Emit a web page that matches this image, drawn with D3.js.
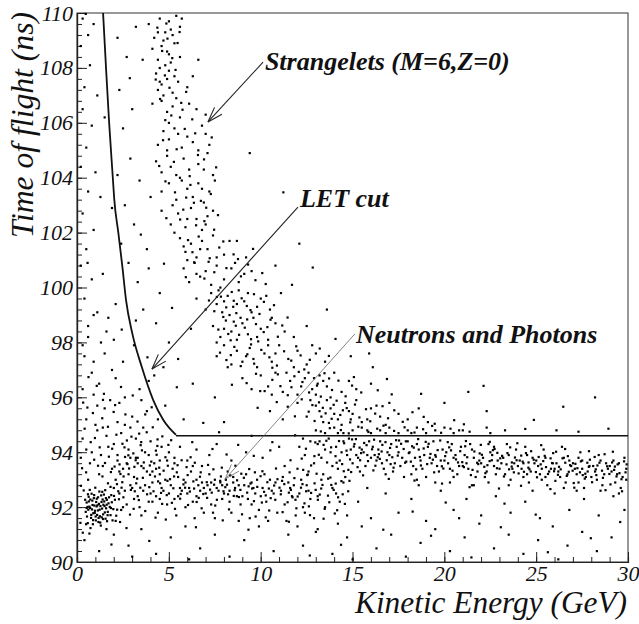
<!DOCTYPE html>
<html><head><meta charset="utf-8">
<script src="https://cdn.jsdelivr.net/npm/d3@7"></script>
<style>
html,body{margin:0;padding:0;background:#fff;}
svg{display:block;}
.tick text{font-family:"Liberation Serif","Times New Roman",serif;font-style:italic;font-size:22px;fill:#111;}
</style></head>
<body><svg id="chart" width="639" height="624"></svg>
<script>
// ---------- data ----------
const xTicks = [0, 5, 10, 15, 20, 25, 30];
const yTicks = [90, 92, 94, 96, 98, 100, 102, 104, 106, 108, 110];

// LET cut: curved part and flat part [E (GeV), t (ns)]
const letCurve = [[1.42,110],[1.58,108],[1.75,106],[1.95,104],[2.03,103.2],[2.25,102],[2.47,100.76],[2.67,99.54],[3.01,98.33],[3.52,97.12],[4.15,95.9],[4.7,95.17],[5.39,94.63]];
const letFlat = [[5.39,94.6],[30,94.6]];

const strangelets = [
[3.9,109.6],[4.2,109.1],[4.5,109.8],[4.8,109.3],[5.0,109.7],[5.2,109.2],[5.4,109.9],[5.6,109.5],[5.1,109.4],[4.7,109.0],[5.7,109.8],[4.4,109.3],
[4.1,108.7],[4.4,108.3],[4.6,108.8],[4.8,108.1],[5.0,108.5],[5.3,108.9],[4.9,108.6],[5.6,108.4],[6.6,108.3],[4.5,108.0],[5.1,108.2],
[4.3,107.8],[4.6,107.4],[4.9,107.6],[5.2,107.1],[5.5,107.5],[4.4,107.2],[5.0,107.9],[6.0,107.3],[6.3,107.7],[4.7,107.0],[5.3,107.7],[4.5,107.5],
[4.6,106.8],[4.9,106.4],[5.2,106.6],[5.6,106.2],[4.8,106.1],[6.5,106.5],[7.0,106.3],[5.4,106.9],[5.0,106.0],[6.1,106.7],
[4.4,105.2],[4.7,105.7],[5.0,105.4],[5.3,105.8],[5.7,105.1],[6.0,105.5],[6.3,105.3],[6.8,105.9],[7.2,105.2],[5.5,105.6],[4.9,105.0],[6.6,105.0],[7.0,105.6],
[4.3,104.6],[4.6,104.2],[4.9,104.8],[5.1,104.4],[5.4,104.1],[5.8,104.7],[6.1,104.3],[6.6,104.5],[7.1,104.9],[7.4,104.1],[9.4,104.9],[5.6,104.0],[6.9,104.3],
[4.6,103.5],[5.0,103.8],[5.4,103.2],[5.7,103.9],[6.0,103.6],[6.3,103.3],[6.6,103.8],[6.9,103.1],[7.2,103.5],[7.5,103.9],[4.0,103.3],[5.2,103.0],[6.8,103.6],
[4.6,102.8],[5.1,102.3],[5.5,102.7],[5.9,102.2],[6.2,102.9],[6.5,102.5],[6.8,102.1],[7.1,102.6],[7.4,102.8],[6.0,102.5],[5.3,102.0],[7.0,102.3],
[5.6,101.8],[5.9,101.3],[6.2,101.6],[6.5,101.1],[6.8,101.7],[7.1,101.4],[7.4,101.9],[8.0,101.2],[8.3,101.7],[6.0,101.0],[6.7,101.4],[7.6,101.1],[5.8,101.5],[8.7,101.7],[9.2,101.1],
[5.8,100.7],[6.1,100.2],[6.4,100.9],[6.7,100.4],[7.0,100.6],[7.3,100.1],[7.6,100.8],[8.0,100.3],[8.4,100.7],[8.8,100.2],[9.1,100.5],[6.5,100.5],[7.8,100.0],[8.6,100.9],[9.5,100.6],
[6.5,99.6],[7.0,99.2],[7.3,99.8],[7.6,99.4],[7.9,99.1],[8.2,99.7],[8.5,99.3],[8.8,99.9],[9.1,99.5],[9.5,99.1],[10.0,99.6],[10.5,99.2],[11.1,99.8],[7.7,99.9],[8.3,99.0],[9.3,99.8],[8.0,99.5],[9.8,99.3],[10.3,99.7],[8.7,99.4],
[7.4,98.6],[7.8,98.2],[8.1,98.8],[8.4,98.4],[8.7,98.1],[9.0,98.7],[9.3,98.3],[9.6,98.9],[10.0,98.5],[10.4,98.1],[10.8,98.7],[11.3,98.4],[8.0,98.5],[8.9,98.9],[9.8,98.2],[7.6,98.0],[10.6,98.9],[11.8,98.2],[12.5,98.6],
[7.6,97.5],[8.0,97.9],[8.4,97.2],[8.7,97.7],[9.0,97.3],[9.4,97.8],[9.8,97.1],[10.2,97.6],[10.6,97.3],[11.0,97.9],[11.5,97.4],[12.0,97.7],[12.5,97.2],[13.0,97.6],[9.2,97.5],[10.8,97.6],[11.8,97.1],[12.8,97.9],[13.5,97.3],[10.4,97.9],[8.2,97.1],[9.6,97.4],
[9.0,96.7],[9.5,96.3],[10.0,96.8],[10.4,96.4],[10.8,96.9],[11.2,96.2],[11.6,96.6],[12.0,96.1],[12.4,96.7],[12.8,96.3],[13.2,96.8],[13.6,96.4],[14.0,96.9],[11.4,96.9],[12.2,96.4],[13.0,96.1],[13.4,96.6],[14.4,96.2],[10.6,96.1],[12.6,96.9],[13.8,96.0],[14.8,96.6],[15.2,96.3],[16.0,96.5],[13.1,96.5],[12.9,96.7],
[10.5,95.5],[11.2,95.2],[12.0,95.8],[12.5,95.3],[13.0,95.7],[13.4,95.1],[13.8,95.6],[14.2,95.2],[14.6,95.8],[15.0,95.4],[15.5,95.1],[16.0,95.6],[16.5,95.3],[17.0,95.8],[13.2,95.5],[13.6,95.9],[14.0,95.4],[14.4,95.0],[14.8,95.5],[15.2,95.9],[15.8,95.2],[16.3,95.7],[17.5,95.4],[18.0,95.2],[18.6,95.6],[19.1,95.1],[13.3,95.3],[14.9,95.2],[12.7,95.9],[16.8,95.0],[20.0,95.8],[22.3,95.5],
[13.0,94.8],[13.5,94.7],[14.0,94.9],[14.5,94.7],[15.0,94.8],[15.5,94.9],[16.0,94.7],[16.5,94.8],[17.0,94.9],[17.5,94.7],[18.0,94.8],[18.5,94.9],[19.0,94.7],[19.5,94.8],[20.0,94.9],[20.5,94.7],[21.0,94.8],[22.3,94.9],[14.2,94.7],[15.8,94.8],[16.8,94.7],[18.2,94.7],[20.8,94.8],[22.5,94.7],
[14.9,97.5],[16.1,97.1],[15.9,97.6],[21.3,96.2],[28.2,96.0],[26.1,94.8],[12.1,101.6],[10.8,100.8],[13.6,99.2],[11.7,100.1],
[4.37,109.47],[4.63,108.62],[4.92,109.07],[5.18,108.36],[5.47,108.91],[4.78,107.73],[5.03,107.28],[5.36,107.93],[4.52,106.87],[5.74,106.48],[5.94,107.13],[4.28,107.58],[5.58,109.31],[4.86,109.62],
[4.68,105.37],[5.13,106.27],[5.42,105.04],[5.86,105.78],[6.27,106.13],[6.58,104.83],[4.47,104.43],[5.27,104.58],[6.43,105.62],[6.91,104.67],[7.33,105.47],[5.67,106.73],[4.81,103.87],[6.13,104.06],[7.57,104.38],
[4.86,102.53],[5.33,103.47],[5.78,102.84],[6.17,103.74],[6.48,102.27],[6.74,103.16],[7.03,102.91],[7.28,103.41],[5.61,102.48],[6.36,103.09],[7.67,102.64],[5.94,103.28],[6.93,102.42],[7.46,102.11],
[6.04,101.73],[6.37,100.92],[6.62,101.86],[6.93,100.33],[7.22,101.07],[7.47,100.56],[7.74,101.46],[8.13,100.71],[8.52,101.21],[8.92,100.41],[9.31,100.84],[9.71,100.27],[10.08,100.53],[5.92,100.38],[6.28,101.29],[7.16,100.94],[7.96,101.68],[8.76,101.04],[9.58,101.41],[10.27,100.13],
[7.18,99.53],[7.47,99.14],[7.83,99.67],[8.12,99.28],[8.42,99.84],[8.67,99.07],[8.96,99.61],[9.24,99.33],[9.63,99.76],[9.93,99.04],[10.17,99.48],[10.72,99.36],[8.53,99.52],[9.44,99.18],[7.61,99.66],
[7.69,98.47],[7.96,98.93],[8.23,98.31],[8.53,98.76],[8.82,98.28],[9.13,98.54],[9.47,98.12],[9.74,98.67],[10.16,98.38],[10.53,98.83],[10.93,98.21],[11.17,98.62],[8.36,98.08],[9.26,98.84],[10.36,98.56],[11.46,98.91],[9.86,98.04],[8.64,98.61],
[7.78,97.63],[8.13,97.36],[8.56,97.84],[8.91,97.14],[9.27,97.57],[9.64,97.23],[10.03,97.73],[10.47,97.46],[10.88,97.16],[11.27,97.68],[11.66,97.34],[12.17,97.53],[12.67,97.37],[13.21,97.78],[9.47,97.93],[10.63,97.08],[11.93,97.86],[12.37,97.02],[13.71,97.51],[8.37,97.54],
[9.23,96.52],[9.74,96.86],[10.21,96.23],[10.63,96.64],[11.07,96.41],[11.47,96.08],[11.83,96.77],[12.27,96.56],[12.63,96.18],[13.06,96.43],[13.47,96.88],[13.88,96.27],[14.23,96.61],[14.62,96.04],[15.07,96.74],[15.47,96.18],[12.07,96.93],[13.27,96.03],[13.72,96.69],[14.97,96.43],[10.93,96.84],[11.67,96.37],[16.37,96.26],[17.13,96.11],[8.43,96.46],
[11.47,95.66],[11.86,95.31],[12.23,95.93],[12.61,95.48],[12.93,95.14],[13.17,95.82],[13.53,95.42],[13.71,95.07],[13.97,95.73],[14.33,95.36],[14.68,95.61],[14.87,95.09],[15.13,95.74],[15.37,95.27],[15.73,95.57],[15.96,95.13],[16.23,95.41],[16.63,95.68],[16.93,95.24],[17.27,95.53],[17.73,95.11],[18.26,95.46],[18.87,95.29],[19.47,95.04],[13.38,95.62],[14.13,95.88],[12.81,95.72],[13.86,95.22],[14.47,95.53],[10.87,95.83],[20.53,95.17],[21.06,95.02],
[13.27,94.76],[13.76,94.88],[14.36,94.81],[14.79,94.69],[15.31,94.93],[15.86,94.74],[16.34,94.86],[16.68,94.97],[17.26,94.78],[17.83,94.91],[18.37,94.72],[18.84,94.84],[19.33,94.96],[19.82,94.71],[20.33,94.86],[21.37,94.75],[23.3,94.8],[24.4,94.85],[27.3,94.75]
];

const highBand = [
[12.1,94.2],[12.4,93.9],[12.7,94.4],[12.9,93.6],[12.3,94.5],[12.6,93.3],
[13.1,94.3],[13.3,93.8],[13.5,94.1],[13.7,94.5],[13.9,93.5],[13.4,93.2],[13.8,94.0],[13.2,94.4],
[14.1,94.2],[14.3,93.7],[14.5,94.4],[14.7,93.9],[14.9,94.1],[14.2,93.4],[14.6,93.1],[14.8,94.5],[14.4,94.0],
[15.1,94.3],[15.3,93.8],[15.5,94.1],[15.7,93.5],[15.9,94.4],[15.2,93.9],[15.6,94.0],[15.4,93.3],[15.8,93.9],[15.0,93.6],
[16.1,94.2],[16.3,93.7],[16.5,94.4],[16.7,93.4],[16.9,94.0],[16.2,93.9],[16.6,93.6],[16.4,94.1],[16.8,93.2],[16.0,93.8],
[17.1,94.3],[17.3,93.6],[17.5,94.0],[17.7,93.8],[17.9,94.4],[17.2,93.3],[17.6,93.5],[17.4,94.2],[17.8,93.1],[17.0,93.9],
[18.1,94.0],[18.3,93.5],[18.5,94.3],[18.7,93.7],[18.9,93.9],[18.2,93.2],[18.6,94.1],[18.4,93.8],[18.8,93.4],[18.0,94.4],[18.5,93.0],
[19.1,94.2],[19.3,93.6],[19.5,93.9],[19.7,93.3],[19.9,94.1],[19.2,93.8],[19.6,93.5],[19.4,94.4],[19.8,93.7],[19.0,93.1],[19.5,92.9],
[20.1,94.0],[20.3,93.4],[20.5,93.8],[20.7,93.2],[20.9,94.2],[20.2,93.6],[20.6,93.9],[20.4,94.3],[20.8,93.5],[20.0,93.7],[20.5,93.1],[20.3,92.9],
[21.1,93.9],[21.3,93.4],[21.5,94.1],[21.7,93.1],[21.9,93.7],[21.2,93.6],[21.6,93.8],[21.4,94.3],[21.8,93.3],[21.0,93.5],[21.5,92.8],
[22.1,93.8],[22.3,93.3],[22.5,94.0],[22.7,93.5],[22.9,93.7],[22.2,93.1],[22.6,93.9],[22.4,94.3],[22.8,93.2],[22.0,93.6],[22.4,92.9],[22.7,94.2],
[23.1,93.6],[23.3,93.2],[23.5,93.9],[23.7,93.4],[23.9,94.1],[23.2,93.8],[23.6,93.0],[23.4,94.3],[23.8,93.6],[23.0,93.4],[23.5,92.8],
[24.1,93.7],[24.3,93.1],[24.5,93.9],[24.7,93.3],[24.9,93.6],[24.2,93.4],[24.6,92.9],[24.4,94.2],[24.8,93.8],[24.0,93.5],[24.5,93.2],[24.3,93.6],
[25.1,93.5],[25.3,93.0],[25.5,93.8],[25.7,93.3],[25.9,93.6],[25.2,93.2],[25.6,92.8],[25.4,94.1],[25.8,93.4],[25.0,93.7],[25.5,93.1],[25.3,93.4],
[26.1,93.6],[26.3,93.1],[26.5,93.8],[26.7,93.2],[26.9,93.5],[26.2,93.3],[26.6,92.9],[26.4,94.2],[26.8,93.7],[26.0,93.4],[26.5,92.7],
[27.1,93.4],[27.3,92.9],[27.5,93.7],[27.7,93.1],[27.9,93.5],[27.2,93.2],[27.6,92.7],[27.4,94.0],[27.8,93.3],[27.0,93.6],[27.5,93.4],[27.3,93.8],
[28.1,93.5],[28.3,93.0],[28.5,93.7],[28.7,93.2],[28.9,93.4],[28.2,93.3],[28.6,92.8],[28.4,93.9],[28.8,93.6],[28.0,93.1],[28.5,92.6],
[29.1,93.3],[29.3,92.9],[29.5,93.6],[29.7,93.1],[29.9,93.4],[29.2,93.7],[29.6,92.7],[29.4,93.2],[29.8,93.8],[29.0,93.5],[29.5,92.5],[29.9,93.0],
[12.23,93.77],[12.46,94.13],[12.74,93.52],[12.97,94.36],[13.16,93.91],[13.42,94.27],[13.61,93.63],[13.83,94.18],[14.07,93.86],[14.26,94.41],[14.43,93.57],[14.67,94.06],[14.86,93.74],[15.07,94.21],[15.27,93.46],[15.46,93.97],[15.63,94.34],[15.84,93.68],[16.06,94.11],[16.24,93.51],[16.43,93.93],[16.62,94.27],[16.86,93.71],[17.04,94.16],[17.23,93.44],[17.46,93.88],[17.64,94.31],[17.86,93.62],[18.06,93.97],[18.24,94.22],[18.46,93.38],[18.66,93.83],[18.87,94.14],[19.06,93.57],[19.24,93.94],[19.44,93.27],[19.63,94.08],[19.86,93.49],[20.04,93.86],[20.26,94.18],[20.44,93.33],[20.63,93.74],[20.86,94.04],[21.06,93.46],[21.24,93.82],[21.44,93.17],[21.63,94.03],[21.84,93.57],[22.04,93.91],[22.23,93.24],[22.46,93.68],[22.64,94.08],[22.86,93.42],[23.04,93.78],[23.24,93.12],[23.43,93.97],[23.66,93.48],[23.84,93.81],[24.04,93.23],[24.26,93.66],[24.44,93.97],[24.63,93.38],[24.86,93.73],[25.04,93.09],[25.24,93.56],[25.46,93.87],[25.64,93.21],[25.86,93.61],[26.04,92.96],[26.24,93.47],[26.43,93.78],[26.66,93.14],[26.84,93.53],[27.04,92.88],[27.24,93.42],[27.43,93.67],[27.64,93.04],[27.86,93.47],[28.04,92.91],[28.24,93.38],[28.44,93.62],[28.63,93.07],[28.86,93.49],[29.04,92.83],[29.24,93.36],[29.43,93.56],[29.64,93.02],[29.86,93.27],
[13.57,94.42],[14.97,94.47],[16.17,94.46],[17.37,94.44],[18.57,94.48],[19.77,94.43],[21.17,94.41],[22.47,94.38],[23.97,94.33],[25.27,94.26],[26.57,94.12],[27.87,94.04],[29.17,94.02],
[15.57,93.16],[16.97,93.03],[18.37,92.97],[19.87,92.86],[21.37,92.73],[22.97,92.68],[24.17,92.78],[25.77,92.66],[27.07,92.71],[28.77,92.62],[29.67,92.58],
[12.53,93.17],[13.67,93.04],[14.77,93.36],[24.57,93.44],[25.97,93.31],[26.77,93.29],[27.67,93.22],[28.27,93.17],[29.37,93.12],[23.67,93.63],[22.17,93.47],[20.97,93.64],[19.37,93.73],[18.17,93.66],[17.07,93.57],[16.37,93.82],
[14.13,93.62],[14.54,94.33],[14.92,93.28],[15.18,94.48],[15.41,93.71],[15.76,94.26],[16.13,93.34],[16.48,93.76],[16.79,94.37],[17.16,93.82],[17.53,94.43],[17.92,93.66],[18.33,94.17],[18.72,93.52],[19.14,94.31],[19.53,93.84],[19.94,93.41],[20.36,94.07],[20.74,93.63],[21.13,94.22],[21.53,93.36],[21.92,93.96],[22.34,93.53],[22.73,94.12],[23.14,93.87],[23.52,93.38],[23.93,93.71],[24.33,93.29],[24.72,94.04],[25.13,93.83],[25.53,93.46],[25.92,93.97],[26.33,93.38],[26.72,93.86],[27.13,93.58],[27.53,93.17],[27.92,93.73],[28.33,93.52],[28.72,93.93],[29.13,93.63],[29.53,93.24],[29.92,93.56],
[22.58,93.71],[23.38,93.56],[24.18,93.88],[24.98,93.28],[25.78,93.78],[26.58,93.62],[27.38,93.27],[28.18,93.83],[28.98,93.21],[29.78,93.67],[25.38,93.68],[26.18,93.18],[26.98,93.33],[27.78,93.62],[28.58,93.33],[29.28,93.48],[23.78,93.27],[24.58,93.63],[22.88,93.98],[21.78,93.62],
[20.18,94.37],[18.98,94.38],[17.78,94.12],[16.58,94.03],[15.38,94.17],[21.98,94.27],[23.58,94.18],[26.08,94.02]
];

const neutronsPhotons = [
[0.47,91.83],[0.52,92.17],[0.58,91.42],[0.63,92.38],[0.71,91.97],[0.76,91.61],[0.83,92.24],[0.88,91.78],[0.94,92.06],[1.02,91.52],[1.07,92.31],[1.13,91.88],[1.19,92.12],[1.24,91.67],[1.31,92.43],[1.36,91.95],[1.42,91.74],[1.48,92.21],[1.55,91.58],[1.61,92.09],[1.67,91.83],[1.74,92.36],[1.82,91.71],[1.89,92.18],[1.97,91.93],[2.06,92.27],[0.54,91.66],[0.67,92.02],[0.79,92.49],[0.86,91.38],[0.97,91.87],[1.04,92.19],[1.16,91.46],[1.27,92.04],[1.39,92.28],[1.51,91.81],[1.63,91.49],[1.78,92.01],[0.61,91.91],[0.73,91.24],[0.91,92.33],[1.09,91.72],[1.21,92.57],[1.34,91.63],[1.46,92.46],[1.58,91.96],[1.71,92.14],[1.86,92.44],[2.13,91.69],[0.44,92.27],[0.69,92.63],[0.99,92.71],[1.29,91.33],[1.53,92.62],[1.93,91.52],[0.81,91.92],[1.11,92.07],[1.43,92.09],[0.57,92.01],[1.01,91.66],
[0.52,91.97],[0.64,92.21],[0.77,91.72],[0.84,92.08],[0.96,91.79],[1.06,92.03],[1.17,91.61],[1.23,91.91],[1.33,92.19],[1.41,91.57],[1.57,92.33],[1.66,91.71],[0.49,91.38],[0.72,92.28],[0.93,92.44],[1.14,92.36],[1.37,92.56],[1.62,92.27],[1.84,91.97],[2.01,92.41],[0.59,92.47],[0.87,91.53],[1.26,91.44],[1.49,92.04],[2.18,91.91],
[2.1,93.0],[2.3,92.5],[2.5,93.4],[2.7,92.1],[2.9,92.8],[2.2,93.7],[2.6,92.6],[2.4,91.9],[2.8,93.2],[2.0,92.7],[2.5,92.0],[2.3,93.3],[2.9,93.8],[2.1,91.5],
[3.1,93.1],[3.3,92.4],[3.5,93.5],[3.7,92.8],[3.9,92.2],[3.2,93.8],[3.6,92.6],[3.4,92.0],[3.8,93.3],[3.0,92.7],[3.5,91.7],[3.3,93.6],[3.9,93.9],[3.1,92.3],
[4.1,92.9],[4.3,92.4],[4.5,93.2],[4.7,92.6],[4.9,92.1],[4.2,93.6],[4.6,92.7],[4.4,91.8],[4.8,93.0],[4.0,92.5],[4.5,92.3],[4.3,93.4],[4.9,93.7],[4.1,92.2],
[5.1,92.8],[5.3,92.3],[5.5,93.1],[5.7,92.6],[5.9,92.0],[5.2,93.4],[5.6,92.7],[5.4,91.7],[5.8,93.0],[5.0,92.5],[5.5,92.4],[5.3,93.6],[5.9,92.9],
[6.1,92.7],[6.3,92.2],[6.5,93.0],[6.7,92.6],[6.9,91.8],[6.2,93.3],[6.6,92.8],[6.4,91.6],[6.8,92.9],[6.0,92.5],[6.5,92.4],[6.3,93.5],[6.9,92.7],
[7.1,92.8],[7.3,92.1],[7.5,93.0],[7.7,92.6],[7.9,92.3],[7.2,93.2],[7.6,92.7],[7.4,91.8],[7.8,92.9],[7.0,92.5],[7.5,91.6],[7.3,92.9],[7.9,92.8],
[8.1,93.0],[8.3,92.6],[8.5,92.9],[8.7,92.4],[8.9,92.1],[8.2,93.3],[8.6,92.7],[8.4,91.8],[8.8,92.8],[8.0,92.5],[8.5,93.1],[8.3,92.2],
[9.1,92.8],[9.3,92.3],[9.5,92.9],[9.7,92.5],[9.9,91.9],[9.2,93.2],[9.6,92.7],[9.4,91.6],[9.8,93.0],[9.0,92.4],[9.5,92.1],
[10.1,92.7],[10.3,92.2],[10.5,93.0],[10.7,92.5],[10.9,91.8],[10.2,93.2],[10.6,92.6],[10.4,91.5],[10.8,92.9],[10.0,92.4],
[11.1,92.6],[11.3,92.1],[11.5,92.9],[11.7,92.4],[11.9,91.7],[11.2,93.1],[11.6,92.7],[11.4,91.5],[11.8,92.8],
[12.1,92.5],[12.3,92.0],[12.5,92.8],[12.7,92.3],[12.9,91.6],[12.2,93.0],[12.6,92.6],[12.4,91.8],
[13.1,92.4],[13.5,92.0],[13.9,92.7],[14.3,92.2],[14.7,91.7],[13.3,93.0],[14.1,92.5],[14.5,92.9],
[2.17,92.84],[2.36,93.21],[2.52,92.36],[2.74,93.57],[2.93,92.63],[3.08,91.94],[3.27,93.04],[3.44,92.71],[3.62,93.42],[3.81,92.47],[3.97,93.18],[4.16,92.58],[4.33,93.91],[4.52,92.87],[4.71,93.33],[4.88,92.44],[5.06,93.02],[5.24,92.69],[5.43,93.27],[5.61,92.31],[5.79,92.83],[5.96,93.46],[6.14,92.57],[6.33,92.94],[6.51,92.19],[6.69,93.11],[6.87,92.48],[7.06,92.91],[7.24,92.64],[7.42,93.38],[7.61,92.27],[7.79,92.96],[7.97,92.58],[8.16,92.82],[8.34,93.16],[8.53,92.41],[8.71,92.98],[8.89,92.63],[9.08,93.07],[9.26,92.53],[9.44,92.86],[9.63,92.22],[9.81,92.74],[9.99,93.13],[10.18,92.56],[10.36,92.91],[10.54,92.33],[10.73,92.79],[10.91,93.02],[11.09,92.47],[11.28,92.84],[11.46,92.18],[11.64,92.63],[11.83,93.06],[12.01,92.39],[12.19,92.71],[12.38,92.14],[12.56,93.19],[12.74,92.52],[12.93,92.87],[13.11,92.27],[13.29,92.68],[13.48,91.94],[13.66,92.42],[13.84,92.81],[14.03,91.77],[14.21,92.36],[14.39,92.95],[14.58,92.12],[14.76,92.58],
[2.28,92.29],[2.61,93.83],[2.88,91.73],[3.14,92.58],[3.53,94.07],[3.71,91.86],[4.04,93.66],[4.27,91.62],[4.63,92.12],[4.94,93.51],[5.33,91.94],[5.69,93.71],[6.04,92.08],[6.41,93.62],[6.78,91.96],[7.13,93.54],[7.52,92.06],[7.88,93.44],[8.27,91.92],[8.62,93.51],[8.98,91.74],[9.37,93.39],[9.72,91.66],[10.09,93.31],[10.46,91.88],[10.83,93.41],[11.19,91.82],[11.57,93.27],[11.94,91.96],[12.31,93.36],[12.68,91.71],[13.04,93.22],[13.42,91.58],[13.79,93.08],[14.16,91.89],[14.52,93.31],
[2.46,92.91],[3.36,92.26],[4.41,92.94],[5.16,92.16],[5.88,92.71],[6.62,92.34],[7.33,92.53],[8.07,92.73],[8.81,92.37],[9.53,92.68],[10.27,92.43],[11.02,92.71],[11.73,92.36],[12.47,92.58],[13.21,92.46],[13.97,92.63],
[2.04,93.48],[2.42,92.71],[2.83,93.41],[3.22,92.87],[3.58,93.07],[3.93,92.73],[4.24,93.12],[4.57,92.52],[4.92,92.96],[5.28,93.12],[5.64,92.48],[6.02,93.17],[6.37,92.68],[6.73,93.27],[7.08,92.34],[7.46,92.82],[7.83,93.12],[8.22,92.47],[8.58,92.62],[8.94,93.22],[9.34,92.76],[9.68,93.27],[10.06,92.17],[10.44,92.68],[10.79,92.27],[11.16,92.96],[11.53,92.53],[11.89,92.27],[12.27,92.84],[12.62,92.03],[12.99,92.63],[13.36,92.81],[13.73,92.18],[14.08,92.86],[14.46,92.47],[14.83,92.96],
[1.38,93.12],[1.68,92.87],[2.58,94.18],[3.06,93.96],[3.49,94.37],[4.37,94.23],[5.12,94.44],[5.47,93.53],[6.18,93.82],[7.37,94.12],[8.14,93.92],[9.62,93.87],[10.52,94.07],[11.62,93.71],[12.92,93.86]
];

const background = [
[0.3,94.5],[0.5,95.2],[0.7,93.6],[0.9,96.1],[1.1,94.8],[1.3,93.9],[1.5,95.6],[1.7,94.2],[1.9,97.0],[0.4,97.5],[0.6,98.2],[0.8,94.0],[1.0,95.0],[1.2,96.5],[1.4,93.5],[1.6,94.6],[1.8,95.9],[2.0,94.3],[2.2,95.1],[2.4,94.7],[2.6,96.0],[2.8,94.1],[3.0,95.3],[3.2,94.5],[3.4,96.3],[3.6,94.9],[3.8,95.5],[4.0,94.4],[4.2,96.8],[4.4,95.2],[4.6,94.2],[4.8,95.7],[2.1,96.7],[2.5,97.3],[3.1,97.9],[1.6,98.4],[0.9,99.0],[2.3,95.8],[2.9,94.9],[3.3,93.8],[1.2,93.2],[0.6,93.0],[0.2,93.8],[1.9,93.4],[2.7,93.6],[3.7,94.0],[4.5,93.7],[5.0,94.0],[5.3,93.8],[0.8,96.9],[1.5,97.6],[2.0,98.1],[0.3,96.3],[1.1,95.7],[3.5,95.9],[2.6,95.0],[1.4,94.9],[0.5,94.1],[4.1,93.3],[3.9,96.6],[2.2,93.9],[5.6,94.2],[6.0,93.7],[6.5,94.1],[7.2,93.9],[5.8,95.2],[6.8,93.5],[7.6,94.3],[8.4,93.7],[9.2,94.0],[10.1,93.8],[11.3,93.5],[12.0,93.4],[8.0,95.1],[9.5,94.6],[11.0,94.2],[6.3,96.5],[7.5,96.0],[5.5,97.4],[6.2,98.5],[3.2,98.8],[4.7,97.1],
[0.27,93.42],[0.41,94.86],[0.56,95.63],[0.74,94.37],[0.93,93.73],[1.07,96.42],[1.23,94.18],[1.37,95.24],[1.52,93.61],[1.68,94.93],[1.84,93.28],[1.99,95.47],[2.14,94.64],[2.31,93.56],[2.47,94.31],[2.63,95.38],[2.79,93.89],[2.96,94.57],[3.12,93.47],[3.29,95.12],[3.46,94.26],[3.63,93.63],[3.79,94.73],[3.96,93.52],[4.12,94.91],[4.29,94.06],[4.47,93.44],[4.64,94.58],[4.81,93.82],[4.97,94.27],[0.33,95.81],[0.62,96.74],[0.86,95.43],[1.14,93.51],[1.46,96.13],[1.73,93.84],[2.07,95.72],[2.39,96.38],[2.71,94.43],[3.03,96.07],[3.38,94.68],[3.71,95.38],[4.06,95.64],[4.38,94.47],[0.49,93.27],[0.97,94.52],[1.41,95.91],[1.91,94.13],[2.53,93.12],[3.19,93.71],[0.21,92.78],[0.36,92.61],[1.82,92.74],[2.24,92.58],[0.18,91.43],[0.31,91.07],[2.34,91.46],[2.69,91.24],
[0.4,90.8],[1.2,90.4],[2.0,91.0],[2.8,90.6],[3.5,91.2],[4.3,90.3],[5.1,90.9],[5.9,91.3],[6.7,90.5],[7.5,91.0],[8.3,90.2],[9.1,90.8],[9.9,91.3],[10.7,90.4],[11.5,91.0],[12.3,90.6],[13.1,91.2],[13.9,90.3],[14.7,90.9],[15.5,91.3],[16.3,90.5],[17.1,91.0],[17.9,90.2],[18.7,90.7],[19.5,91.2],[20.3,90.4],[21.1,90.9],[21.9,91.4],[22.7,90.5],[23.5,91.0],[24.3,90.3],[25.1,90.8],[25.9,91.3],[26.7,90.6],[27.5,91.1],[28.3,90.4],[29.1,90.9],[1.6,91.2],[3.0,90.2],[6.1,90.1],[8.8,91.5],[15.0,90.1],[20.8,91.6],[26.2,90.1],
[15.3,92.2],[16.0,91.6],[16.8,92.5],[17.5,91.8],[18.2,92.3],[19.0,91.5],[19.8,92.6],[20.5,91.9],[21.2,92.3],[22.0,91.7],[22.8,92.4],[23.6,91.8],[24.4,92.2],[25.2,91.6],[26.0,92.5],[26.8,91.9],[27.6,92.3],[28.4,91.7],[29.2,92.4],[29.8,91.9],[15.8,92.7],[18.6,92.8],[21.6,92.8],[24.8,92.6],[27.2,92.6],[14.2,91.4],[13.0,91.1],[12.0,91.3],
[0.3,109.8],[0.6,109.2],[0.9,109.6],[0.2,108.8],[0.7,108.1],[0.4,107.3],[1.1,107.0],[0.3,106.5],[0.8,105.9],[0.5,105.1],[0.2,104.4],[1.0,104.2],[0.6,103.5],[0.3,102.7],[0.9,102.1],[0.5,101.4],[0.2,100.8],[0.8,100.3],[0.4,99.6],[1.1,99.1],[0.6,98.6],[0.3,97.9],[1.3,98.0],[0.9,97.3],[2.2,109.1],[2.7,108.4],[2.3,107.2],[3.0,106.5],[2.5,105.8],[2.9,104.7],[2.2,104.1],[3.4,103.9],[2.6,103.0],[3.1,102.3],[2.4,101.6],[2.8,100.9],[3.3,100.2],[3.9,100.7],[2.1,99.4],[3.6,99.2],[4.3,98.7],[5.0,98.0],[4.5,99.8],[3.8,101.4],[4.1,106.7],[3.2,109.5],[1.5,106.2],[1.9,102.9],[1.4,100.5],[1.7,98.9],
[2.87,107.63],[0.47,109.97],[3.57,108.3],[1.27,103.3],[0.57,100.9],[2.43,98.47],[3.83,97.46],[5.43,96.37],[6.87,95.07],[7.73,94.73],[9.83,95.62],[10.63,94.37],[11.87,94.62],[6.27,94.37],[8.77,94.27],[9.97,96.23],[5.17,99.26],[4.73,100.87],[3.47,101.93],[11.23,103.47],[12.83,100.73],[14.07,98.13],[16.87,96.67],[18.73,96.13],[22.13,96.42],[24.87,95.18],[26.47,95.66],[28.93,94.86],[11.53,91.47],[10.27,91.63],[9.33,91.18],[7.93,91.52],[6.47,91.27],[4.83,91.55],[3.93,90.77],[1.87,90.64],[0.67,91.04],[16.67,91.18],[19.27,90.96],[23.07,91.27],[24.97,91.73],[27.97,90.87],[29.57,91.46],[14.37,90.63],[12.67,90.24],[21.47,90.17],[25.63,90.36],[18.27,91.84],[20.07,92.17],[23.27,92.13]
];

// annotations: label, label anchor [E,t], arrow start [E,t], arrow tip [E,t]
const annotations = [
  {text:"Strangelets (M=6,Z=0)", at:[10.23,107.92], from:[10.13,108.21], to:[7.13,106.03], thin:false},
  {text:"LET cut", at:[12.14,102.93], from:[12.03,102.93], to:[4.08,97.03], thin:false},
  {text:"Neutrons and Photons", at:[15.19,97.98], from:[15.13,98.31], to:[8.06,93.02], thin:true}
];

// ---------- drawing ----------
const serif = "'Liberation Serif','Times New Roman',Times,serif";
const svg = d3.select("#chart");
const x = d3.scaleLinear().domain([0,30]).range([77,628]);
const y = d3.scaleLinear().domain([90,110]).range([562,13]);

// frame
svg.append("rect").attr("x",x(0)).attr("y",y(110)).attr("width",x(30)-x(0)).attr("height",y(90)-y(110))
  .attr("fill","none").attr("stroke","#333").attr("stroke-width",1);

// ticks (inward)
const gx = svg.append("g").attr("transform",`translate(0,${y(90)})`);
gx.call(d3.axisBottom(x).tickValues(d3.range(0,31,1)).tickSize(-5).tickFormat(""));
gx.append("g").call(d3.axisBottom(x).tickValues(xTicks).tickSizeInner(-10).tickSizeOuter(0).tickPadding(3).tickFormat(d3.format("d")));
const gy = svg.append("g").attr("transform",`translate(${x(0)},0)`);
gy.call(d3.axisLeft(y).tickValues(d3.range(0,51).map(i=>90+i*0.4)).tickSize(-5).tickFormat(""));
gy.append("g").call(d3.axisLeft(y).tickValues(yTicks).tickSizeInner(-10).tickSizeOuter(0).tickPadding(4).tickFormat(d3.format("d")));
svg.selectAll(".domain").attr("stroke","#222").attr("stroke-width",1.2);
svg.selectAll(".tick line").attr("stroke","#222");

// points
const allPts = [...background, ...neutronsPhotons, ...highBand, ...strangelets];
svg.append("g").selectAll("rect").data(allPts).join("rect")
  .attr("x",d=>x(d[0])-1).attr("y",d=>y(d[1])-1).attr("width",2.2).attr("height",2.2).attr("fill","#000");

// LET cut
const line = d3.line().x(d=>x(d[0])).y(d=>y(d[1])).curve(d3.curveMonotoneX);
svg.append("path").datum(letCurve).attr("d",line).attr("fill","none").attr("stroke","#111").attr("stroke-width",1.8);
svg.append("path").datum(letFlat).attr("d",d3.line().x(d=>x(d[0])).y(d=>y(d[1]))).attr("fill","none").attr("stroke","#111").attr("stroke-width",1.3);

// annotations
annotations.forEach(a=>{
  const x1=x(a.from[0]), y1=y(a.from[1]), x2=x(a.to[0]), y2=y(a.to[1]);
  const col = a.thin ? "#666" : "#222";
  const sw = a.thin ? 0.8 : 1.1;
  svg.append("line").attr("x1",x1).attr("y1",y1).attr("x2",x2).attr("y2",y2).attr("stroke",col).attr("stroke-width",sw);
  const ang = Math.atan2(y1-y2, x1-x2), L=16, spread=0.32;
  [ang-spread, ang+spread].forEach(b=>{
    svg.append("line").attr("x1",x2).attr("y1",y2).attr("x2",x2+L*Math.cos(b)).attr("y2",y2+L*Math.sin(b)).attr("stroke",col).attr("stroke-width",sw);
  });
  svg.append("text").attr("x",x(a.at[0])).attr("y",y(a.at[1])).text(a.text)
    .attr("font-family",serif).attr("font-style","italic").attr("font-weight","bold")
    .attr("font-size",26).attr("fill","#111");
});

// axis titles, sized to the reference's extents
function fit(sel, target){
  const fs = +sel.attr("font-size");
  const w = sel.node().getComputedTextLength();
  if (w>0) sel.attr("font-size", fs*target/w);
}
const yt = svg.append("text").attr("transform","translate(33,12) rotate(-90)").attr("text-anchor","end")
  .attr("font-family",serif).attr("font-style","italic").attr("font-size",30).attr("fill","#111")
  .text("Time of flight (ns)");
fit(yt, 226);
const xt = svg.append("text").attr("x",627).attr("y",613).attr("text-anchor","end")
  .attr("font-family",serif).attr("font-style","italic").attr("font-size",30).attr("fill","#111")
  .text("Kinetic Energy (GeV)");
fit(xt, 272);
</script></body></html>
